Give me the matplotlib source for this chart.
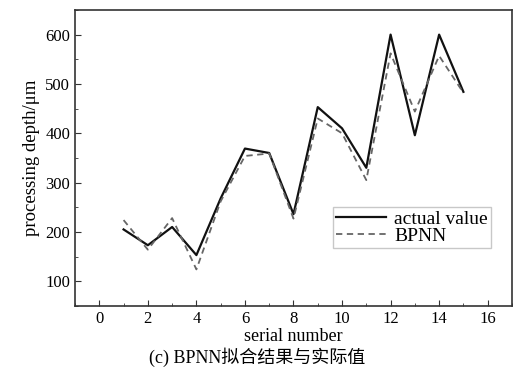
import matplotlib
matplotlib.use("Agg")
import matplotlib.pyplot as plt
from matplotlib.ticker import MultipleLocator

plt.rcParams['font.family'] = ['Liberation Serif', 'Noto Sans CJK SC', 'DejaVu Sans']
plt.rcParams['mathtext.fontset'] = 'stix'

serial = [1, 2, 3, 4, 5, 6, 7, 8, 9, 10, 11, 12, 13, 14, 15]
actual = [205, 173, 210, 153, 268, 369, 360, 236, 453, 410, 330, 600, 396, 600, 484]
bpnn = [224, 164, 228, 124, 262, 354, 359, 227, 430, 400, 305, 562, 444, 557, 482]
xticks = [0, 2, 4, 6, 8, 10, 12, 14, 16]
yticks = [100, 200, 300, 400, 500, 600]

fig = plt.figure(figsize=(5.14, 3.69), dpi=100)
ax = fig.add_axes([0.146, 0.171, 0.850, 0.802])

ax.plot(serial, actual, color='#111111', lw=1.6, label='actual value')
ax.plot(serial, bpnn, color='#666666', lw=1.3, ls=(0, (3.5, 2.5)), label='BPNN')

ax.set_xlim(-1, 17)
ax.set_ylim(50, 650)
ax.set_xticks(xticks)
ax.set_yticks(yticks)
ax.xaxis.set_minor_locator(MultipleLocator(1))
ax.yaxis.set_minor_locator(MultipleLocator(50))
ax.tick_params(which='both', direction='in', labelsize=12, color='#333333')
ax.tick_params(which='major', length=4)
ax.tick_params(which='minor', length=2)
for s in ax.spines.values():
    s.set_color('#333333')
    s.set_linewidth(1.2)

ax.set_xlabel('serial number', fontsize=13, labelpad=1)
ax.set_ylabel('processing depth/μm', fontsize=13.5, labelpad=4)

leg = ax.legend(loc='upper left', bbox_to_anchor=(0.59, 0.334), fontsize=14,
                frameon=True, fancybox=False, edgecolor='#bbbbbb',
                handlelength=2.6, handletextpad=0.4, borderpad=0.15,
                labelspacing=0.0, borderaxespad=0)
leg.get_frame().set_linewidth(1.0)

fig.text(0.5, 0.005, '(c) BPNN拟合结果与实际值', ha='center', va='bottom', fontsize=13)

fig.savefig('out.png', dpi=100)
